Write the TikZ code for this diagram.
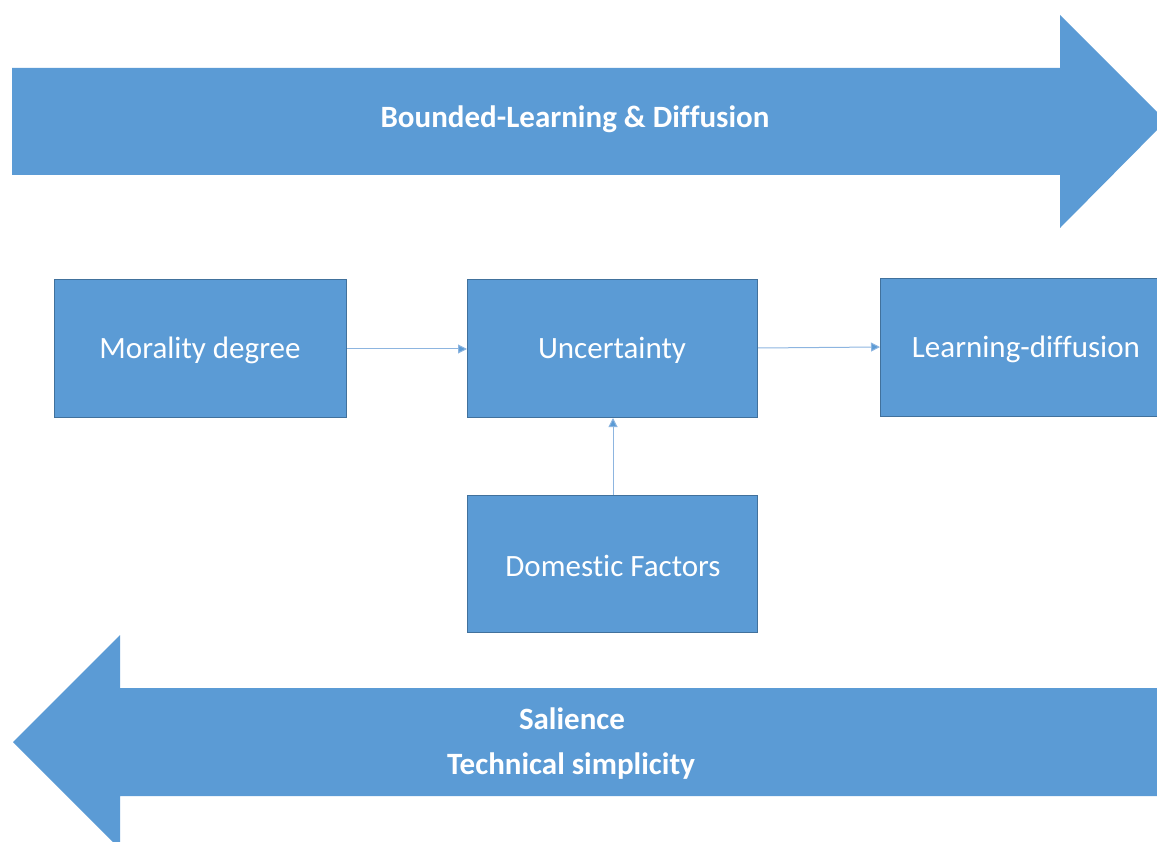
\documentclass[tikz,border=0pt]{standalone}
\usepackage{fontspec}
\setmainfont{Carlito}[Ligatures=NoCommon]
\usetikzlibrary{arrows.meta}
\definecolor{boxfill}{HTML}{5B9BD5}
\definecolor{boxline}{HTML}{41719C}
\definecolor{conn}{HTML}{8DB5E0}
\tikzset{
  blockbox/.style={draw=boxline, line width=1pt, fill=boxfill, text=white,
    inner sep=0pt, anchor=north west},
  boxtext/.style={text=white, font=\fontsize{31}{36}\selectfont},
  bigarrow/.style={fill=boxfill, draw=none},
  arrowtext/.style={text=white, font=\bfseries\fontsize{31}{36}\selectfont},
  conn/.style={draw=conn, line width=1pt, -{Triangle[length=9pt,width=9pt,fill=boxfill]}}
}
\begin{document}
\begin{tikzpicture}[x=1pt,y=-1pt]
\useasboundingbox (0,0) rectangle (1157,842);
\clip (0,0) rectangle (1157,842);
% top arrow
\fill[bigarrow] (12,68) -- (1060,68) -- (1060,15) -- (1166,121) -- (1060,228) -- (1060,175) -- (12,175) -- cycle;
\node[arrowtext] (toptext) at (575,119) {Bounded-Learning \& Diffusion};
% bottom arrow
\fill[bigarrow] (1170,688) -- (120,688) -- (120,635) -- (13,742) -- (120,849) -- (120,796) -- (1170,796) -- cycle;
\node[arrowtext] (sal) at (572,719) {Salience};
\node[arrowtext] (tech) at (571,766) {Technical simplicity};
% boxes
\node[blockbox, minimum width=292pt, minimum height=138pt] (mor) at (54,279) {};
\node[boxtext] (mort) at (200,350) {Morality degree};
\node[blockbox, minimum width=290pt, minimum height=138pt] (unc) at (467,279) {};
\node[boxtext] (unct) at (612,350) {Uncertainty};
\node[blockbox, minimum width=292pt, minimum height=138pt] (ld) at (880,278) {};
\node[boxtext] (ldt) at (1026,349) {Learning-diffusion};
\node[blockbox, minimum width=290pt, minimum height=137pt] (dom) at (467,495) {};
\node[boxtext] (domt) at (613,566) {Domestic Factors};
% connectors
\draw[conn] (mor.east |- 0,349) -- (unc.west |- 0,349);
\draw[conn] (unc.east |- 0,348) -- (ld.west |- 0,347);
\draw[conn] (dom.north -| 613,0) -- (unc.south -| 613,0);
\end{tikzpicture}
\end{document}
